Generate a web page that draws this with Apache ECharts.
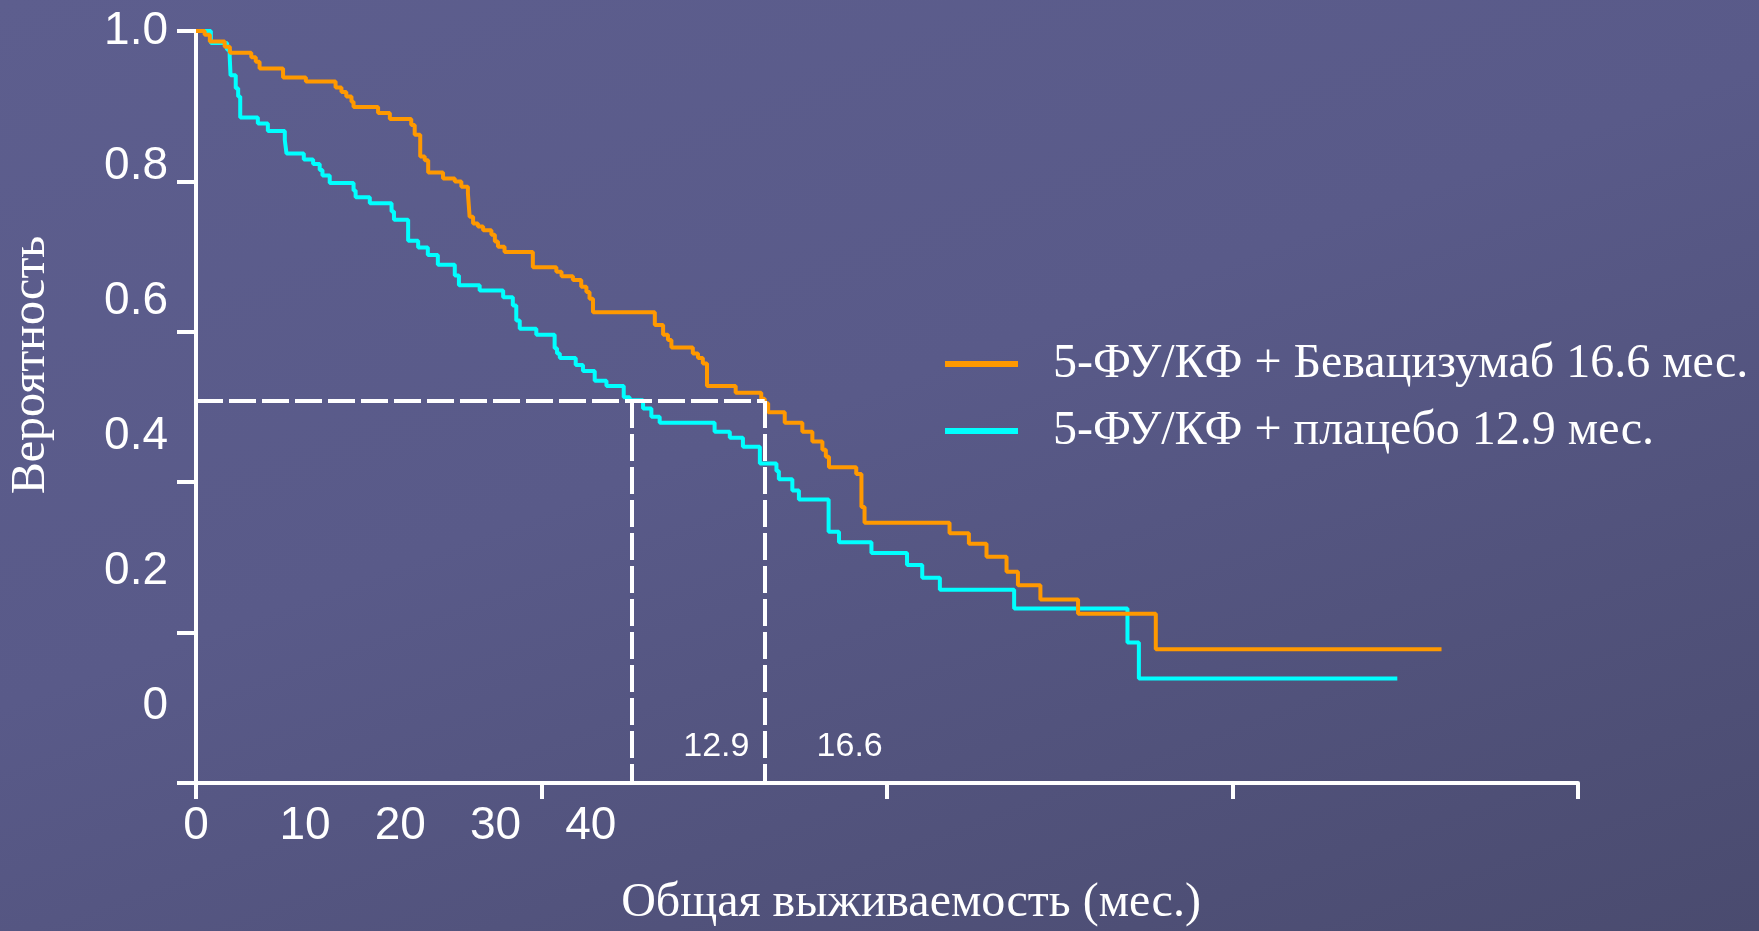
<!DOCTYPE html>
<html>
<head>
<meta charset="utf-8">
<script src="https://cdn.jsdelivr.net/npm/echarts@6/dist/echarts.min.js"></script>
<style>
html,body{margin:0;padding:0;width:1759px;height:931px;overflow:hidden;
background:linear-gradient(160deg,#5d5e8e 0%,#595a89 45%,#4a4b6f 100%);}
#c{width:1759px;height:931px;}
</style>
</head>
<body>
<div id="c"></div>
<script>
// ---- data (months, survival probability) ----
const seriesNames = ['5-ФУ/КФ + Бевацизумаб 16.6 мес.', '5-ФУ/КФ + плацебо 12.9 мес.'];
const benT = [0,0.25,0.40,0.83,0.98,1.60,1.73,1.84,2.52,3.18,4.04,4.21,4.35,4.50,4.56,5.27,5.61,6.23,6.33,6.49,6.62,6.72,7.15,7.49,7.68,7.87,7.92,8.02,8.16,8.31,8.55,8.65,8.74,8.93,9.75,10.43,10.58,10.91,11.15,11.30,11.39,11.49,13.28,13.52,13.66,13.76,14.38,14.53,14.67,14.79,15.62,16.36,16.46,16.56,17.04,17.55,17.84,18.13,18.23,18.32,19.11,19.26,19.35,21.81,22.37,22.88,23.46,23.79,24.44,25.53,27.78,36.05];
const benS = [1.0,0.995,0.986,0.979,0.971,0.965,0.959,0.950,0.938,0.933,0.925,0.919,0.913,0.906,0.899,0.891,0.883,0.875,0.862,0.833,0.828,0.812,0.804,0.800,0.793,0.784,0.753,0.744,0.740,0.735,0.729,0.720,0.713,0.706,0.686,0.680,0.674,0.669,0.660,0.653,0.644,0.626,0.609,0.596,0.589,0.579,0.571,0.565,0.558,0.528,0.519,0.511,0.505,0.493,0.479,0.467,0.454,0.443,0.434,0.420,0.411,0.367,0.346,0.332,0.318,0.301,0.281,0.263,0.244,0.225,0.178,0.178];
const plaT = [0,0.43,0.90,0.975,1.00,1.15,1.22,1.28,1.79,2.08,2.57,2.62,3.12,3.39,3.58,3.66,3.87,4.56,4.62,5.03,5.66,5.73,6.14,6.43,6.71,7.00,7.49,7.61,8.21,8.89,9.17,9.27,9.37,9.85,10.38,10.45,10.53,10.99,11.20,11.54,11.88,12.38,12.55,12.94,13.18,13.42,15.01,15.45,15.83,16.32,16.80,16.87,17.26,17.45,18.31,18.61,19.55,20.58,21.02,21.53,23.68,26.96,27.29,34.77];
const plaS = [1.0,0.984,0.975,0.966,0.941,0.924,0.913,0.885,0.877,0.867,0.855,0.837,0.829,0.823,0.815,0.808,0.798,0.788,0.779,0.771,0.760,0.749,0.721,0.712,0.702,0.689,0.675,0.662,0.655,0.646,0.635,0.615,0.604,0.596,0.578,0.571,0.565,0.556,0.548,0.535,0.528,0.513,0.509,0.498,0.487,0.479,0.467,0.459,0.447,0.425,0.415,0.404,0.389,0.377,0.334,0.320,0.306,0.290,0.273,0.257,0.232,0.187,0.139,0.139];
// median guide lines (positions as drawn) and their labels
const medianX = [12.6, 16.46];
const medianP = 0.508;
const medianLabels = ['12.9', '16.6'];
// tick labels as printed on the slide
const xTickLabels = [0, 10, 20, 30, 40];
const yTickLabels = [0, 0.2, 0.4, 0.6, 0.8, 1.0];
const xTitle = 'Общая выживаемость (мес.)';
const yTitle = 'Вероятность';

const sans = '"Liberation Sans", Arial, sans-serif';
const serif = '"Liberation Serif", "Times New Roman", serif';
const zip = (t, s) => t.map((v, i) => [v, s[i]]);

const chart = echarts.init(document.getElementById('c'), null, {renderer: 'canvas'});
const white = '#ffffff';
const option = {
  backgroundColor: 'transparent',
  animation: false,
  grid: {left: 196, right: 181, top: 31, bottom: 148},
  legend: {
    orient: 'vertical', left: 940, top: 335,
    itemWidth: 73, itemHeight: 6, itemGap: 19, icon: 'rect',
    textStyle: {color: white, fontFamily: serif, fontSize: 48, padding: [0, 0, 0, 30]},
    data: seriesNames
  },
  xAxis: [
    {type: 'value', min: 0, max: 40, interval: 10,
     axisLine: {show: true, lineStyle: {color: white, width: 4}},
     axisTick: {show: true, length: 16, lineStyle: {color: white, width: 4}},
     axisLabel: {show: true, customValues: xTickLabels.slice(0, 1), color: white, fontFamily: sans, fontSize: 46, margin: 20},
     splitLine: {show: false}},
    {type: 'value', position: 'bottom', min: -1.44, max: 143.6,
     axisLine: {show: false}, axisTick: {show: false}, splitLine: {show: false},
     axisLabel: {show: true, customValues: xTickLabels.slice(1), color: white, fontFamily: sans, fontSize: 46, margin: 20}}
  ],
  yAxis: [
    {type: 'value', min: 0, max: 1, interval: 0.2,
     axisLine: {show: true, lineStyle: {color: white, width: 4}},
     axisTick: {show: true, length: 19, lineStyle: {color: white, width: 4}},
     axisLabel: {show: false}, splitLine: {show: false}},
    {type: 'value', position: 'left', min: -0.1131, max: 1.0,
     axisLine: {show: false}, axisTick: {show: false}, splitLine: {show: false},
     axisLabel: {show: true, customValues: yTickLabels, color: white, fontFamily: sans, fontSize: 46, margin: 28,
       showMinLabel: true, showMaxLabel: true,
       formatter: v => (v === 0 ? '0' : v.toFixed(1))}}
  ],
  series: [
    {name: seriesNames[0], type: 'line', step: 'end', xAxisIndex: 0, yAxisIndex: 0,
     showSymbol: false, symbol: 'none', color: '#ff9900', z: 3,
     lineStyle: {color: '#ff9900', width: 4},
     data: zip(benT, benS),
     markLine: {
       silent: true, symbol: ['none', 'none'], animation: false,
       lineStyle: {color: white, width: 4, type: [27, 6]},
       label: {show: false},
       data: [
         [{coord: [0, medianP]}, {coord: [medianX[1], medianP]}],
         [{coord: [medianX[0], medianP]}, {coord: [medianX[0], 0]}],
         [{coord: [medianX[1], medianP]}, {coord: [medianX[1], 0]}]
       ]
     },
     markPoint: {
       silent: true, symbol: 'circle', symbolSize: 0, animation: false,
       label: {show: true, color: white, fontFamily: sans, fontSize: 34, offset: [85, -36],
               formatter: p => p.name},
       data: medianX.map((x, i) => ({name: medianLabels[i], coord: [x, 0]}))
     }},
    {name: seriesNames[1], type: 'line', step: 'end', xAxisIndex: 0, yAxisIndex: 0,
     showSymbol: false, symbol: 'none', color: '#00ffff', z: 2,
     lineStyle: {color: '#00ffff', width: 4},
     data: zip(plaT, plaS)}
  ],
  graphic: [
    {type: 'text', x: 31, y: 365, rotation: Math.PI / 2, silent: true,
     style: {text: yTitle, fill: white, font: '48px ' + serif,
             align: 'center', verticalAlign: 'middle', textAlign: 'center', textVerticalAlign: 'middle'}},
    {type: 'text', x: 911, y: 903, silent: true,
     style: {text: xTitle, fill: white, font: '48px ' + serif,
             align: 'center', verticalAlign: 'middle', textAlign: 'center', textVerticalAlign: 'middle'}}
  ]
};
chart.setOption(option);
</script>
</body>
</html>
